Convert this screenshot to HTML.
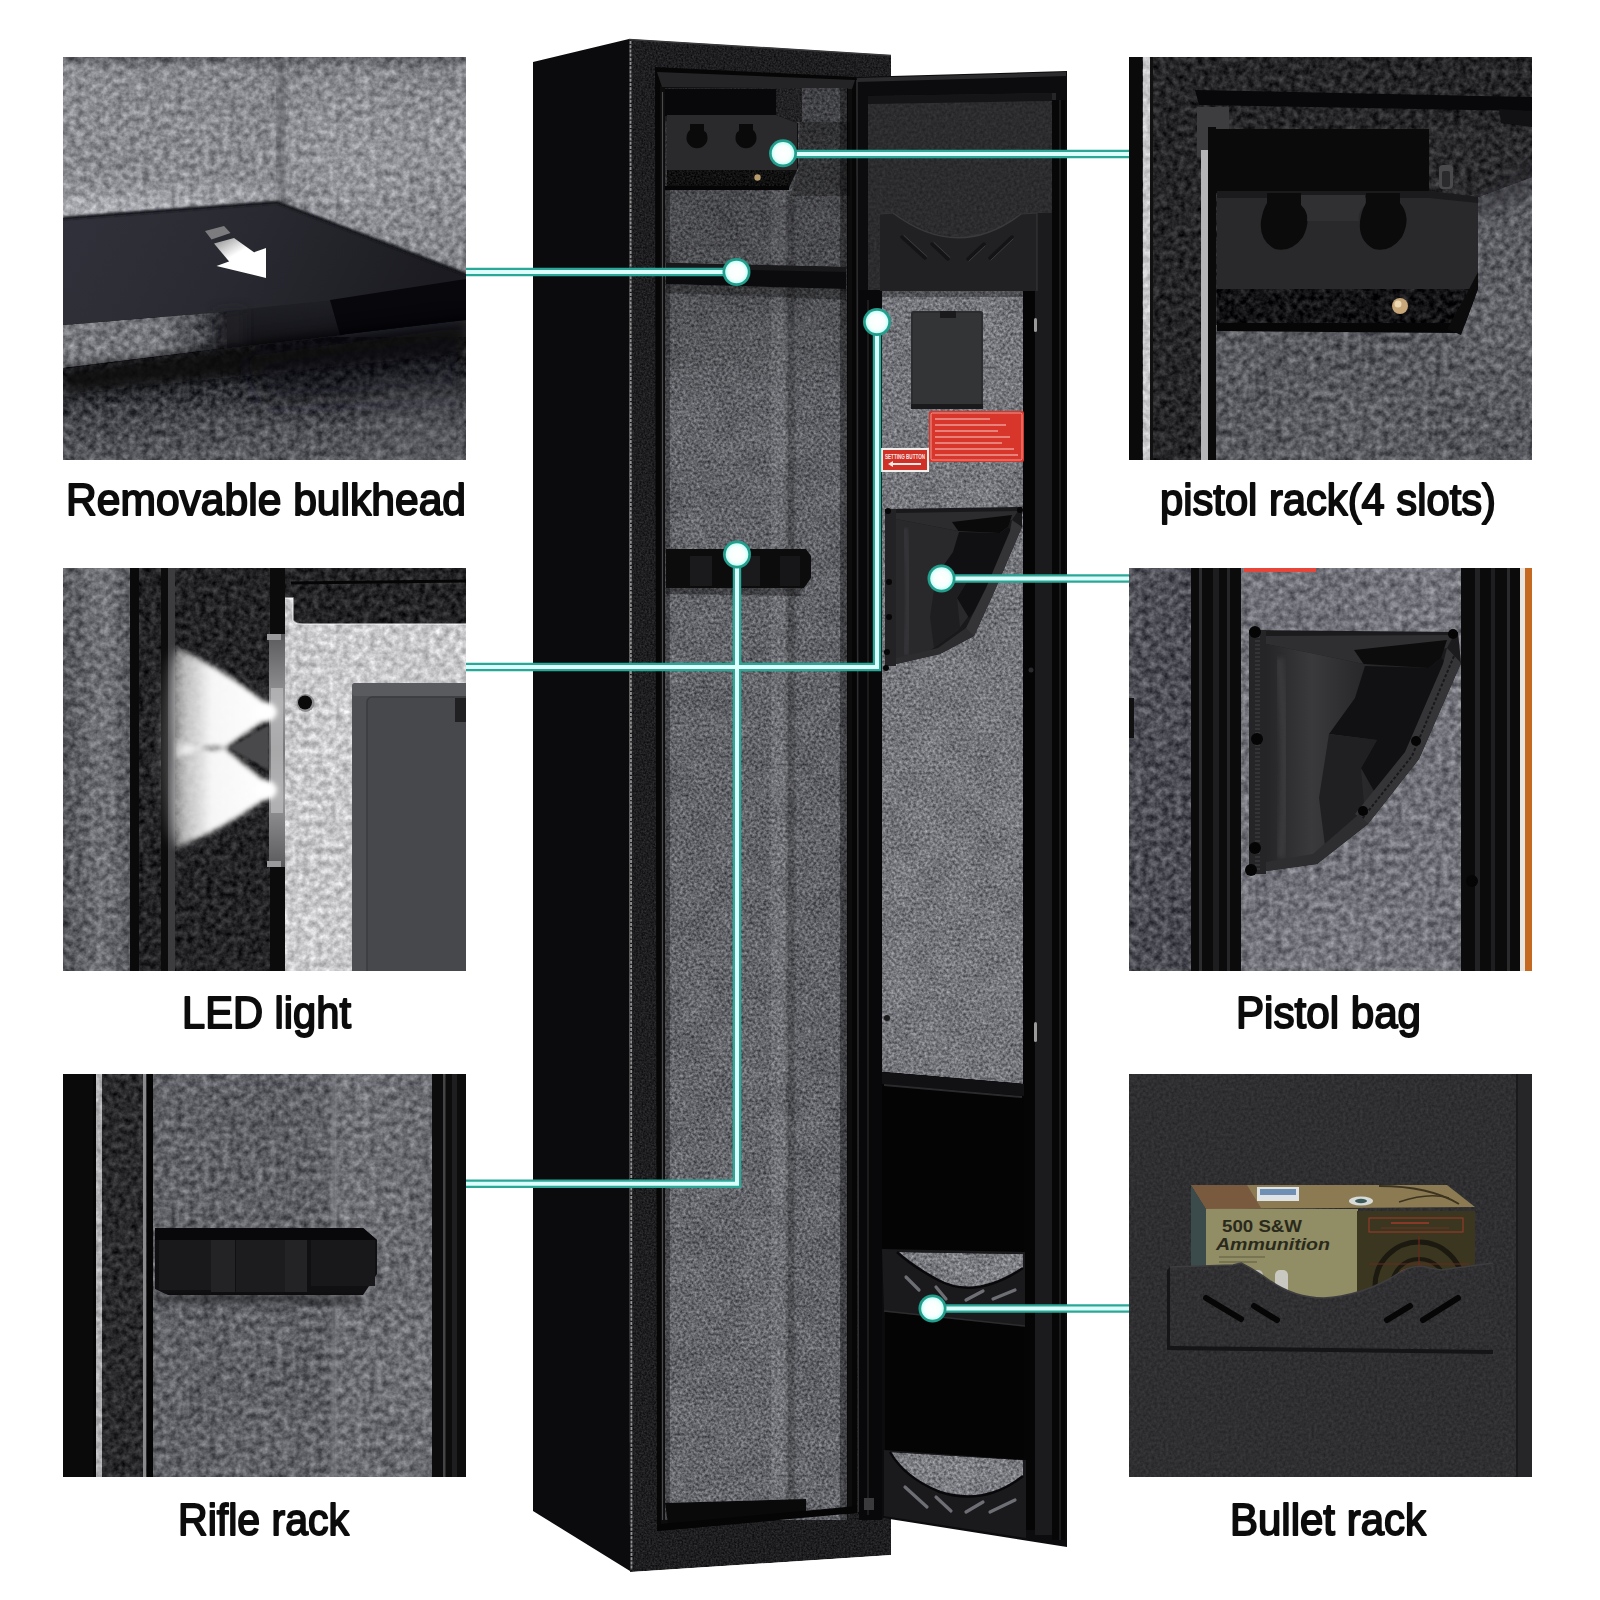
<!DOCTYPE html>
<html lang="en"><head><meta charset="utf-8"><title>Gun safe features</title>
<style>
html,body{margin:0;padding:0;background:#fff}
body{width:1600px;height:1600px;overflow:hidden;position:relative}
svg{position:absolute;left:0;top:0;display:block}
text{font-family:"Liberation Sans",sans-serif}
.cap{font-size:45px;fill:#0a0a0a;stroke:#0a0a0a;stroke-width:1.9px;stroke-linejoin:round}
</style></head><body>
<svg width="1600" height="1600" viewBox="0 0 1600 1600">

<defs>
<!-- fine felt (safe interior) -->
<filter id="feltF" x="0" y="0" width="100%" height="100%" color-interpolation-filters="sRGB">
  <feTurbulence type="fractalNoise" baseFrequency="0.36" numOctaves="2" seed="7" result="n"/>
  <feColorMatrix in="n" type="matrix" values="1 0 0 0 0  1 0 0 0 0  1 0 0 0 0  0 0 0 0 1" result="g"/>
  <feTurbulence type="fractalNoise" baseFrequency="0.035" numOctaves="2" seed="21" result="n2"/>
  <feColorMatrix in="n2" type="matrix" values="1 0 0 0 0  1 0 0 0 0  1 0 0 0 0  0 0 0 0 1" result="g2"/>
  <feComposite in="g" in2="g2" operator="arithmetic" k1="0" k2="0.55" k3="0.1" k4="0" result="c"/>
  <feComposite in="SourceGraphic" in2="c" operator="arithmetic" k1="0" k2="1" k3="1" k4="-0.325" result="m"/>
  <feComposite in="m" in2="SourceGraphic" operator="in"/>
</filter>
<!-- coarse felt (thumbnails, upscaled) -->
<filter id="feltC" x="0" y="0" width="100%" height="100%" color-interpolation-filters="sRGB">
  <feTurbulence type="fractalNoise" baseFrequency="0.15" numOctaves="3" seed="11" result="n"/>
  <feColorMatrix in="n" type="matrix" values="1 0 0 0 0  1 0 0 0 0  1 0 0 0 0  0 0 0 0 1" result="g"/>
  <feTurbulence type="fractalNoise" baseFrequency="0.012" numOctaves="2" seed="4" result="n2"/>
  <feColorMatrix in="n2" type="matrix" values="1 0 0 0 0  1 0 0 0 0  1 0 0 0 0  0 0 0 0 1" result="g2"/>
  <feComposite in="g" in2="g2" operator="arithmetic" k1="0" k2="0.48" k3="0.05" k4="0" result="c"/>
  <feComposite in="SourceGraphic" in2="c" operator="arithmetic" k1="0" k2="1" k3="1" k4="-0.265" result="m"/>
  <feComposite in="m" in2="SourceGraphic" operator="in"/>
</filter>
<!-- dark metal powder-coat texture -->
<filter id="metalF" x="0" y="0" width="100%" height="100%" color-interpolation-filters="sRGB">
  <feTurbulence type="fractalNoise" baseFrequency="0.55" numOctaves="2" seed="3" result="n"/>
  <feColorMatrix in="n" type="matrix" values="1 0 0 0 0  1 0 0 0 0  1 0 0 0 0  0 0 0 0 1" result="g"/>
  <feComposite in="SourceGraphic" in2="g" operator="arithmetic" k1="0" k2="1" k3="0.22" k4="-0.11" result="m"/>
  <feComposite in="m" in2="SourceGraphic" operator="in"/>
</filter>
<filter id="metalC" x="0" y="0" width="100%" height="100%" color-interpolation-filters="sRGB">
  <feTurbulence type="fractalNoise" baseFrequency="0.16" numOctaves="3" seed="5" result="n"/>
  <feColorMatrix in="n" type="matrix" values="1 0 0 0 0  1 0 0 0 0  1 0 0 0 0  0 0 0 0 1" result="g"/>
  <feComposite in="SourceGraphic" in2="g" operator="arithmetic" k1="0" k2="1" k3="0.36" k4="-0.18" result="m"/>
  <feComposite in="m" in2="SourceGraphic" operator="in"/>
</filter>
<filter id="metalS" x="0" y="0" width="100%" height="100%" color-interpolation-filters="sRGB">
  <feTurbulence type="fractalNoise" baseFrequency="0.35" numOctaves="2" seed="9" result="n"/>
  <feColorMatrix in="n" type="matrix" values="1 0 0 0 0  1 0 0 0 0  1 0 0 0 0  0 0 0 0 1" result="g"/>
  <feComposite in="SourceGraphic" in2="g" operator="arithmetic" k1="0" k2="1" k3="0.12" k4="-0.06" result="m"/>
  <feComposite in="m" in2="SourceGraphic" operator="in"/>
</filter>
<linearGradient id="bodyShade" x1="0" y1="0" x2="0" y2="1"><stop offset="0" stop-color="#000" stop-opacity="0.34"/><stop offset="0.14" stop-color="#000" stop-opacity="0.22"/><stop offset="0.22" stop-color="#000" stop-opacity="0.04"/><stop offset="1" stop-color="#000" stop-opacity="0"/></linearGradient>
<filter id="b1" x="-20%" y="-20%" width="140%" height="140%"><feGaussianBlur stdDeviation="1"/></filter>
<filter id="b2" x="-20%" y="-20%" width="140%" height="140%"><feGaussianBlur stdDeviation="2.5"/></filter>
<filter id="b6" x="-30%" y="-30%" width="160%" height="160%"><feGaussianBlur stdDeviation="6"/></filter>
<filter id="b14" x="-40%" y="-40%" width="180%" height="180%"><feGaussianBlur stdDeviation="14"/></filter>
<clipPath id="sq"><rect x="0" y="0" width="403" height="403"/></clipPath>
</defs>

<g id="safe">
<!-- side panel -->
<polygon points="533,62 629,39 630,1571 533,1511" fill="#0b0b0d"/>
<!-- front face -->
<polygon points="629,39 891,55 891,1555 630,1572" fill="#1e1e20" filter="url(#metalF)"/>
<line x1="630.5" y1="41" x2="631.5" y2="1570" stroke="#a8a8a8" stroke-width="1.8" stroke-dasharray="3 1.2" opacity="0.85"/>
<line x1="629" y1="39.5" x2="891" y2="55.5" stroke="#3a3a3c" stroke-width="1.5"/>
<!-- opening -->
<polygon points="655,67 857,77 857,1513 657,1531" fill="#060607"/>
<polygon points="660,86 852,88 852,1512 661,1526" fill="#0d0d0e"/>
<polygon points="657,72 855,80 852,89 662,87" fill="#242426"/>
<line x1="662.5" y1="92" x2="662.5" y2="1520" stroke="#4a4a4c" stroke-width="1.2"/>
<!-- felt: back wall, corner, right wall -->
<g filter="url(#feltF)">
<rect x="665" y="88" width="106" height="1432" fill="#66676c"/>
<rect x="771" y="88" width="17" height="1432" fill="#727378"/>
<rect x="788" y="88" width="59" height="1432" fill="#64656a"/>
</g>
<rect x="665" y="88" width="183" height="1432" fill="url(#bodyShade)"/>
<rect x="840" y="88" width="8" height="1432" fill="#000" opacity="0.35"/>
<rect x="786" y="196" width="9" height="1324" fill="#000" opacity="0.18" filter="url(#b1)"/>
<rect x="665" y="88" width="5" height="1432" fill="#000" opacity="0.3"/>
<!-- top pistol rack -->
<rect x="665" y="88" width="137" height="34" fill="#222224" filter="url(#metalF)"/>
<rect x="665" y="89" width="111" height="27" fill="#08080a"/>
<polygon points="800,122 850,122 850,196 790,196 798,170" fill="#000" opacity="0.28"/>
<polygon points="667,115 776,115 798,123 798,168 788,190 667,186" fill="#0f0f10"/>
<polygon points="667,115 776,115 797,123 797,170 667,170" fill="#2a2a2c"/>
<path d="M690,124 h14 v6 a10.5,10.5 0 1 1 -14,0 z" fill="#0a0a0b"/>
<path d="M739,124 h14 v6 a10.5,10.5 0 1 1 -14,0 z" fill="#0a0a0b"/>
<rect x="704" y="122" width="35" height="10" rx="2" fill="#2a2a2c"/>
<polygon points="667,170 793,170 787,187 667,185" fill="#101011" filter="url(#metalF)"/>
<circle cx="757.5" cy="177.5" r="3.2" fill="#b79a6c"/>
<rect x="665" y="186" width="124" height="4" fill="#050506"/>
<!-- shelf -->
<polygon points="666,263 846,267 846,289 666,284" fill="#0b0b0d"/>
<polygon points="666,263 846,267 846,272 666,268" fill="#18181a"/>
<polygon points="666,284 846,289 846,300 666,293" fill="#000" opacity="0.3"/>
<!-- rifle rack -->
<polygon points="666,549 806,549 811,556 811,578 804,588 666,588" fill="#0c0c0d"/>
<rect x="690" y="556" width="22" height="30" fill="#1a1a1c"/>
<rect x="738" y="556" width="22" height="30" fill="#1a1a1c"/>
<rect x="780" y="556" width="20" height="30" fill="#161618"/>
<polygon points="666,588 804,588 800,596 666,594" fill="#000" opacity="0.35"/>
<!-- bottom foot inside -->
<polygon points="665,1503 806,1499 806,1513 668,1524" fill="#09090a"/>
<polygon points="657,1531 857,1513 857,1506 661,1524" fill="#050506"/>
<!-- door -->
<polygon points="856,77 1067,71 1067,1547 858,1514" fill="#0c0c0e"/>
<polygon points="857,78 1066,72 1066,76 857,82" fill="#2b2b2d"/>
<line x1="857" y1="80" x2="858.5" y2="1512" stroke="#2e2e30" stroke-width="1.5"/>
<!-- door top inner recessed panel -->
<polygon points="868,96 1054,93 1054,300 868,300" fill="#2c2c2e" filter="url(#metalS)"/>
<polygon points="868,96 1054,93 1054,101 868,104" fill="#151517"/>
<rect x="1052" y="93" width="4" height="1440" fill="#262628"/>
<!-- right rails -->
<rect x="1023" y="290" width="12" height="1240" fill="#050506"/>
<rect x="1035" y="213" width="17" height="1322" fill="#1b1b1d"/>
<rect x="1052" y="100" width="13" height="1440" fill="#070708"/>
<line x1="1060" y1="100" x2="1060" y2="1540" stroke="#2a2a2c" stroke-width="1.2"/>
<!-- left rail -->
<rect x="859" y="290" width="23" height="1230" fill="#08080a"/>
<line x1="868" y1="300" x2="868" y2="1515" stroke="#232325" stroke-width="1.5"/>
<!-- bracket top -->
<path d="M880,214 L893,213 Q958,262 1021,214 L1037,213 L1037,291 L880,291 Z" fill="#212123"/>
<path d="M893,213 Q958,262 1021,214" fill="none" stroke="#3a3a3c" stroke-width="1.5"/>
<path d="M880,214 L893,213 M1021,214 L1037,213 L1037,291" fill="none" stroke="#353537" stroke-width="1.2"/>
<g stroke="#141416" stroke-width="3.5" stroke-linecap="round">
<line x1="902" y1="237" x2="925" y2="258"/><line x1="932" y1="244" x2="948" y2="259"/>
<line x1="968" y1="259" x2="984" y2="244"/><line x1="990" y1="258" x2="1012" y2="237"/>
</g>
<g stroke="#3c3c3e" stroke-width="1" stroke-linecap="round" fill="none">
<line x1="904" y1="235.500" x2="927" y2="256.500"/><line x1="934" y1="242.500" x2="950" y2="257.500"/>
<line x1="969" y1="261" x2="985" y2="246"/><line x1="991" y1="260" x2="1013" y2="239"/>
</g>
<!-- door felt -->
<polygon points="882,291 1023,291 1023,1084 882,1072" fill="#75767c" filter="url(#feltF)"/>
<rect x="882" y="291" width="141" height="6" fill="#000" opacity="0.3"/>
<!-- battery box -->
<rect x="911" y="311" width="72" height="97" rx="2" fill="#2b2c2e"/>
<rect x="913" y="313" width="68" height="93" rx="2" fill="#333436"/>
<rect x="940" y="311" width="16" height="7" fill="#1a1a1c"/>
<rect x="911" y="404" width="72" height="5" fill="#1a1a1c"/>
<!-- red labels -->
<rect x="929" y="411" width="95" height="51" rx="2" fill="#d8352b"/>
<rect x="931" y="413" width="91" height="47" rx="1.5" fill="none" stroke="#f3b4ae" stroke-width="0.8"/>
<g stroke="#f0a7a0" stroke-width="1.3" opacity="0.9">
<line x1="935" y1="419" x2="990" y2="419"/><line x1="935" y1="425" x2="1006" y2="425"/><line x1="935" y1="431" x2="998" y2="431"/>
<line x1="935" y1="437" x2="1010" y2="437"/><line x1="935" y1="443" x2="1002" y2="443"/><line x1="935" y1="449" x2="1014" y2="449"/><line x1="935" y1="455" x2="1018" y2="455"/>
</g>
<rect x="881" y="448" width="48" height="24" fill="#f3f0ee"/>
<rect x="883" y="450" width="44" height="20" fill="#cf3127"/>
<text x="905" y="459" font-size="6.5" font-weight="bold" fill="#fbe9e7" text-anchor="middle" textLength="40" lengthAdjust="spacingAndGlyphs">SETTING BUTTON</text>
<path d="M888,464 l5,-3 v2 h28 v2 h-28 v2 z" fill="#fbe9e7"/>
<!-- pistol bag -->
<polygon points="885,509 1022,507 1022,527 995,590 974,636 940,654 896,664 885,666" fill="#19191b"/>
<rect x="885" y="509" width="11" height="157" fill="#232325"/>
<polygon points="896,513 1018,511 1012,520 958,531 896,519" fill="#2c2c2f"/>
<polygon points="952,522 1012,515 1008,527 1000,533 959,532" fill="#0a0a0b"/>
<polygon points="896,519 958,531 1000,533 1008,527 1014,531 990,588 958,630 928,652 896,660" fill="#29292b"/>
<polygon points="959,532 1000,533 1008,527 1015,532 991,590 969,618 957,598 968,580 936,576 953,552" fill="#101012"/>
<polygon points="936,576 968,580 957,598 960,628 934,648 930,617" fill="#1e1e20"/>
<path d="M905,528 Q911,590 906,655" fill="none" stroke="#414144" stroke-width="6" opacity="0.5" filter="url(#b1)"/>
<polygon points="1012,520 1022,527 995,590 974,636 965,630 986,588 1010,531" fill="#343437"/>
<polygon points="974,636 940,654 896,664 896,658 938,648 966,628" fill="#2d2d30"/>
<g fill="#060607"><circle cx="888" cy="511" r="3"/><circle cx="889" cy="582" r="3"/><circle cx="889" cy="617" r="3"/><circle cx="887" cy="652" r="3"/><circle cx="886" cy="668" r="3"/><circle cx="1020" cy="510" r="3"/></g>
<!-- small screws on door -->
<circle cx="887" cy="1018" r="3" fill="#1b1b1d"/><circle cx="1031" cy="670" r="2.5" fill="#2a2a2c"/>
<rect x="1034" y="318" width="3" height="14" rx="1.5" fill="#9a9a9a"/><rect x="1034" y="1022" width="3" height="20" rx="1.5" fill="#9a9a9a"/>
<!-- pocket 1 -->
<polygon points="882,1072 1024,1084 1024,1262 882,1250" fill="#040405"/>
<polygon points="882,1072 1024,1084 1024,1096 882,1084" fill="#111113"/>
<polygon points="884,1084 1022,1096 1022,1098 884,1086" fill="#2a2a2c"/>
<!-- felt floor 1 + plate 1 -->
<polygon points="882,1249 1025,1252 1025,1326 884,1311" fill="#1a1a1c"/>
<path d="M897,1252 L1023,1254 L1023,1268 Q975,1300 938,1280 Q912,1266 897,1252 Z" fill="#7b7c82" filter="url(#feltF)"/>
<path d="M897,1252 Q912,1266 938,1280 Q975,1300 1023,1268" fill="none" stroke="#08080a" stroke-width="2.5"/>
<g stroke="#6e6f74" stroke-width="3.2" stroke-linecap="round">
<line x1="906" y1="1277" x2="919" y2="1290"/><line x1="936" y1="1287" x2="946" y2="1299"/>
<line x1="966" y1="1300" x2="983" y2="1291"/><line x1="993" y1="1299" x2="1015" y2="1290"/>
</g>
<!-- pocket 2 -->
<polygon points="885,1312 1024,1327 1024,1462 885,1452" fill="#040405"/>
<line x1="884" y1="1311" x2="1025" y2="1326" stroke="#2c2c2e" stroke-width="1.5"/>
<!-- plate 2 + felt floor 2 -->
<polygon points="884,1450 1026,1460 1026,1538 884,1516" fill="#1a1a1c"/>
<path d="M890,1452 L1023,1460 L1023,1476 Q985,1506 940,1492 Q905,1478 890,1452 Z" fill="#7b7c82" filter="url(#feltF)"/>
<path d="M890,1452 Q905,1478 940,1492 Q985,1506 1023,1476" fill="none" stroke="#08080a" stroke-width="2.5"/>
<g stroke="#6e6f74" stroke-width="3.2" stroke-linecap="round">
<line x1="905" y1="1487" x2="927" y2="1507"/><line x1="936" y1="1497" x2="951" y2="1511"/>
<line x1="966" y1="1512" x2="983" y2="1502"/><line x1="990" y1="1512" x2="1015" y2="1500"/>
</g>
<!-- hinge bit -->
<rect x="864" y="1498" width="10" height="12" fill="#3a3a3c"/>
</g>

<g id="t1" transform="translate(63,57)" clip-path="url(#sq)">
<defs>
<linearGradient id="t1a" x1="0" y1="0" x2="0" y2="1"><stop offset="0" stop-color="#5a5b61"/><stop offset="0.07" stop-color="#8a8b91"/><stop offset="0.7" stop-color="#8b8c92"/><stop offset="0.92" stop-color="#b4b5bb"/><stop offset="1" stop-color="#a8a9af"/></linearGradient>
<linearGradient id="t1b" x1="0" y1="0" x2="0" y2="1"><stop offset="0" stop-color="#5c5d63"/><stop offset="0.06" stop-color="#85868c"/><stop offset="0.4" stop-color="#94959b"/><stop offset="1" stop-color="#84858b"/></linearGradient>
<linearGradient id="t1c" x1="0" y1="0" x2="1" y2="0.15"><stop offset="0" stop-color="#30313a"/><stop offset="0.5" stop-color="#292a31"/><stop offset="1" stop-color="#1b1b21"/></linearGradient>
<linearGradient id="t1d" x1="0" y1="0" x2="0" y2="1"><stop offset="0" stop-color="#111116"/><stop offset="0.3" stop-color="#25262b"/><stop offset="0.7" stop-color="#4c4d52"/><stop offset="1" stop-color="#595a5f"/></linearGradient>
<linearGradient id="t1e" x1="0" y1="0" x2="1" y2="1"><stop offset="0" stop-color="#8a8a8a"/><stop offset="0.6" stop-color="#ffffff"/></linearGradient>
<linearGradient id="t1f" x1="0" y1="0" x2="1" y2="0"><stop offset="0" stop-color="#7a7b80"/><stop offset="0.6" stop-color="#75767b"/><stop offset="1" stop-color="#2c2d32"/></linearGradient>
<linearGradient id="t1g" x1="0" y1="0" x2="0.3" y2="1"><stop offset="0" stop-color="#26272d"/><stop offset="1" stop-color="#121217"/></linearGradient>
</defs>
<rect x="0" y="0" width="403" height="403" fill="#2a2b30"/>
<g filter="url(#feltC)">
<rect x="0" y="0" width="222" height="175" fill="url(#t1a)"/>
<rect x="218" y="0" width="185" height="230" fill="url(#t1b)"/>
<rect x="0" y="280" width="403" height="123" fill="url(#t1d)"/>
</g>
<rect x="215" y="0" width="6" height="148" fill="#3a3a40" opacity="0.45" filter="url(#b2)"/>
<polygon points="0,161 214,145 403,217 403,224 267,243 164,254 0,268" fill="url(#t1c)"/>
<polyline points="0,161 214,145 403,217" fill="none" stroke="#17171c" stroke-width="3" filter="url(#b1)"/>
<polygon points="164,254 267,243 403,224 403,236 277,279 164,292" fill="url(#t1g)"/>
<polygon points="267,243 403,222 403,263 277,278" fill="#07070c"/>
<polygon points="0,268 164,254.500 164,291 0,311" fill="url(#t1f)" filter="url(#feltC)"/>
<polygon points="152,254 182,252 182,292 152,294" fill="#222328" opacity="0.7" filter="url(#b6)"/>
<polygon points="0,312 164,291 277,278 403,263 403,296 0,338" fill="#0b0b10" opacity="0.88" filter="url(#b6)"/>
<polygon points="180,300 403,270 403,340 200,350" fill="#0d0d12" opacity="0.45" filter="url(#b14)"/>
<polygon points="300,330 403,320 403,403 300,403" fill="#7a7b82" opacity="0.22" filter="url(#b14)"/>
<!-- arrow -->
<polygon points="142,174 161,169 167.500,176 148.500,182.500" fill="#7c7c7f"/>
<polygon points="151,186.500 171,181 192,196 167,205.500" fill="url(#t1e)"/>
<polygon points="153.500,209 203,191 203,221" fill="#ffffff"/>
</g>

<g id="t2" transform="translate(63,568)" clip-path="url(#sq)">
<defs>
<linearGradient id="t2a" x1="0" y1="0" x2="1" y2="0"><stop offset="0" stop-color="#55565c"/><stop offset="0.6" stop-color="#74757b"/><stop offset="1" stop-color="#55565b"/></linearGradient>
<linearGradient id="t2c" x1="1" y1="0" x2="0" y2="0"><stop offset="0" stop-color="#fff" stop-opacity="1"/><stop offset="0.6" stop-color="#fff" stop-opacity="0.96"/><stop offset="0.85" stop-color="#fff" stop-opacity="0.7"/><stop offset="1" stop-color="#fff" stop-opacity="0.2"/></linearGradient>
<linearGradient id="t2d" x1="0" y1="0" x2="0" y2="1"><stop offset="0" stop-color="#5a5a5c"/><stop offset="0.3" stop-color="#9a9a9c"/><stop offset="0.5" stop-color="#777779"/><stop offset="0.7" stop-color="#9a9a9c"/><stop offset="1" stop-color="#5a5a5c"/></linearGradient>
</defs>
<rect x="0" y="0" width="403" height="403" fill="#1c1c1e"/>
<rect x="0" y="0" width="70" height="403" fill="url(#t2a)" filter="url(#feltC)"/>
<rect x="68" y="0" width="335" height="403" fill="#242426" filter="url(#metalC)"/>
<rect x="67" y="0" width="9" height="403" fill="#0a0a0b"/>
<rect x="98" y="0" width="7" height="403" fill="#0c0c0d"/>
<rect x="105" y="0" width="7" height="403" fill="#3c3c3f"/>
<rect x="207" y="0" width="15" height="403" fill="#0b0b0c"/>
<!-- lit felt -->
<path d="M222,30 L230,30 L230,52 Q232,56 240,56 L403,56 L403,403 L222,403 Z" fill="#c9c9cb" filter="url(#feltC)"/>
<path d="M222,30 L230,30 L230,52 Q232,56 240,56 L403,56" fill="none" stroke="#fff" stroke-width="1.5" opacity="0.6"/>
<rect x="222" y="0" width="181" height="16" fill="#262628" filter="url(#metalC)"/>
<line x1="228" y1="15" x2="403" y2="13" stroke="#050506" stroke-width="3"/>
<!-- LED strip -->
<rect x="206" y="66" width="16" height="233" fill="url(#t2d)"/>
<rect x="208" y="120" width="12" height="125" fill="#bdbdbf" opacity="0.7"/>
<rect x="204" y="66" width="14" height="6" fill="#9a9a9c"/><rect x="204" y="293" width="14" height="6" fill="#9a9a9c"/>
<!-- light cones -->
<ellipse cx="112" cy="180" rx="14" ry="95" fill="#fff" opacity="0.22" filter="url(#b6)"/>
<g filter="url(#b2)">
<path d="M208,139 Q160,100 113,80 Q104,130 112,192 Q140,175 162,180 Q190,160 208,149 Z" fill="url(#t2c)"/>
<path d="M208,217 Q185,200 162,180 Q140,185 112,172 Q104,230 113,280 Q160,262 208,227 Z" fill="url(#t2c)"/>
</g>
<polygon points="166,180 206,157 206,202" fill="#4a4a4c" filter="url(#b1)"/>
<ellipse cx="204" cy="144" rx="10" ry="9" fill="#fff" filter="url(#b2)"/>
<ellipse cx="204" cy="222" rx="10" ry="9" fill="#fff" filter="url(#b2)"/>
<!-- hole -->
<circle cx="242.500" cy="135" r="9" fill="#8d8d8f"/><circle cx="242" cy="134.500" r="7" fill="#0a0a0b"/>
<!-- battery box -->
<rect x="289" y="115" width="120" height="300" rx="4" fill="#4d4e51"/>
<rect x="289" y="115" width="120" height="13" rx="3" fill="#5a5b5e"/>
<rect x="304" y="129" width="110" height="290" rx="5" fill="#47484b" stroke="#3a3b3e" stroke-width="1.5"/>
<rect x="392" y="130" width="12" height="24" fill="#202022"/>
</g>

<g id="t3" transform="translate(63,1074)" clip-path="url(#sq)">
<rect x="0" y="0" width="403" height="403" fill="#0a0a0b"/>
<rect x="30" y="0" width="58" height="403" fill="#2a2a2c" filter="url(#metalC)"/>
<rect x="33" y="0" width="6" height="403" fill="#b0b0b2" filter="url(#metalC)"/>
<rect x="30" y="0" width="3" height="403" fill="#050506"/>
<rect x="80" y="0" width="3.500" height="403" fill="#8a8a8c"/>
<rect x="83.500" y="0" width="7" height="403" fill="#050506"/>
<g filter="url(#feltC)">
<rect x="90" y="0" width="183" height="403" fill="#616268"/>
<rect x="272" y="0" width="97" height="403" fill="#6d6e74"/>
</g>
<rect x="268" y="0" width="6" height="403" fill="#8a8b91" opacity="0.4" filter="url(#b1)"/>
<rect x="369" y="0" width="34" height="403" fill="#0c0c0d"/>
<rect x="380" y="0" width="2.500" height="403" fill="#444446"/>
<rect x="389" y="0" width="5" height="403" fill="#1e1e20"/>
<!-- rack -->
<polygon points="92,154 300,154 314,166 314,200 300,221 105,221 92,215" fill="#101012"/>
<polygon points="92,154 300,154 314,166 92,166" fill="#08080a"/>
<rect x="96" y="166" width="74" height="50" fill="#19191b"/>
<rect x="173" y="166" width="70" height="52" fill="#1c1c1e"/>
<rect x="248" y="166" width="64" height="46" fill="#18181a"/>
<rect x="148" y="166" width="24" height="52" fill="#232325"/>
<rect x="222" y="166" width="22" height="52" fill="#232325"/>
<polygon points="92,221 300,221 296,232 92,230" fill="#000" opacity="0.35" filter="url(#b2)"/>
</g>

<g id="t4" transform="translate(1129,57)" clip-path="url(#sq)">
<rect x="0" y="0" width="403" height="403" fill="#262628" filter="url(#metalC)"/>
<rect x="0" y="0" width="13" height="403" fill="#0a0a0b"/>
<rect x="14" y="0" width="7" height="403" fill="#c8c8ca" filter="url(#metalC)"/>
<rect x="21" y="0" width="3" height="403" fill="#111"/>
<!-- recess top shadow line -->
<polygon points="66,33 403,40 403,54 70,48" fill="#08080a"/>
<polygon points="68,50 100,50 100,72 88,76 88,100 68,100" fill="#3d3d40"/>
<polygon points="370,52 403,54 403,70 372,66" fill="#111113"/>
<!-- right dark textured area -->
<rect x="300" y="70" width="103" height="90" fill="#2b2b2e" filter="url(#metalC)"/>
<!-- felt -->
<g filter="url(#feltC)">
<rect x="87" y="268" width="316" height="135" fill="#5a5b61"/>
<polygon points="349,140 403,120 403,290 330,290 335,250" fill="#5e5f65"/>
</g>
<polygon points="349,140 403,100 403,140 349,160" fill="#2b2b2e" opacity="0.5" filter="url(#b6)"/>
<!-- vertical lines -->
<rect x="72" y="93" width="7" height="310" fill="#b5b5b7"/>
<rect x="79" y="70" width="8" height="333" fill="#0a0a0b"/>
<!-- rack -->
<rect x="87" y="72" width="213" height="64" fill="#0a0a0b"/>
<polygon points="88,134 300,134 349,140 349,232 88,232" fill="#29292b"/>
<polygon points="88,134 300,134 349,140 349,146 300,141 88,141" fill="#1b1b1d"/>
<rect x="310" y="108" width="14" height="24" rx="4" fill="#4a4a4d"/><rect x="313" y="114" width="8" height="16" rx="2" fill="#2b2b2e"/>
<path d="M138,136 L172,136 L172,146 Q184,160 174,180 Q162,196 146,192 Q130,184 132,164 Q134,152 138,146 Z" fill="#0b0b0c"/>
<path d="M237,136 L271,136 L271,146 Q283,160 273,180 Q261,196 245,192 Q229,184 231,164 Q233,152 237,146 Z" fill="#0b0b0c"/>
<path d="M172,138 L236,138 L236,148 Q228,156 230,164 L178,164 Q180,156 172,148 Z" fill="#303033"/>
<!-- lower lip -->
<polygon points="88,232 349,232 336,268 88,268" fill="#131315" filter="url(#metalC)"/>
<polygon points="88,266 336,266 330,276 88,274" fill="#060607"/>
<polygon points="349,215 349,232 332,278 318,272 336,240" fill="#0b0b0c"/>
<circle cx="271" cy="249" r="8" fill="#c7a679"/><circle cx="269" cy="247" r="3.500" fill="#ecd9b4"/>
</g>

<g id="t5" transform="translate(1129,568)" clip-path="url(#sq)">
<rect x="0" y="0" width="403" height="403" fill="#0b0b0c"/>
<rect x="0" y="0" width="62" height="403" fill="#4e4f56" filter="url(#feltC)"/>
<rect x="112" y="0" width="220" height="403" fill="#73747b" filter="url(#feltC)"/>
<rect x="70" y="0" width="3" height="403" fill="#2c2c2e"/><rect x="84" y="0" width="6" height="403" fill="#1d1d1f"/><rect x="98" y="0" width="3" height="403" fill="#262628"/>
<rect x="346" y="0" width="5" height="403" fill="#222224"/><rect x="362" y="0" width="4" height="403" fill="#1e1e20"/><rect x="378" y="0" width="3" height="403" fill="#2a2a2c"/>
<rect x="391" y="0" width="5" height="403" fill="#e8e4e0"/><rect x="396" y="0" width="7" height="403" fill="#c4691f"/>
<rect x="115" y="0" width="72" height="4" fill="#e8453a"/>
<rect x="0" y="130" width="5" height="40" fill="#111"/>
<!-- bag -->
<defs><linearGradient id="t5g" x1="0" y1="0" x2="1" y2="0"><stop offset="0" stop-color="#252527"/><stop offset="0.25" stop-color="#3a3a3d"/><stop offset="0.5" stop-color="#2a2a2c"/><stop offset="1" stop-color="#1a1a1c"/></linearGradient></defs>
<polygon points="120,62 329,64 332,95 290,191 239,256 188,296 137,303 120,306" fill="#1b1b1d"/>
<rect x="120" y="62" width="17" height="244" fill="#252527"/>
<line x1="128.500" y1="64" x2="128.500" y2="304" stroke="#343436" stroke-width="5" stroke-dasharray="2 2"/>
<polygon points="137,68 325,67 318,80 235,96 137,76" fill="#2f2f32"/>
<polygon points="225,82 318,72 312,90 300,100 236,98" fill="#0c0c0d"/>
<polygon points="137,76 235,96 300,100 312,90 320,96 282,186 234,250 186,288 137,296" fill="url(#t5g)"/>
<polygon points="236,98 300,100 312,90 322,98 284,188 250,232 232,200 248,172 200,166 226,130" fill="#111113"/>
<polygon points="200,166 248,172 232,200 236,248 196,278 190,230" fill="#202022"/>
<path d="M150,90 Q160,190 152,290" fill="none" stroke="#444447" stroke-width="9" opacity="0.55" filter="url(#b2)"/>
<polygon points="318,80 332,95 290,191 239,256 226,246 276,184 314,96" fill="#353538"/>
<polyline points="325,88 283,188 233,251" fill="none" stroke="#19191b" stroke-width="2" stroke-dasharray="3 2"/>
<polygon points="239,256 188,296 137,303 137,294 184,286 230,246" fill="#2e2e31"/>
<g fill="#050506"><circle cx="126" cy="64" r="6"/><circle cx="128" cy="171" r="6"/><circle cx="126" cy="280" r="6"/><circle cx="122" cy="302" r="6"/><circle cx="324" cy="66" r="5"/><circle cx="287" cy="173" r="5"/><circle cx="234" cy="243" r="5"/><circle cx="343" cy="313" r="6"/></g>
</g>

<g id="t6" transform="translate(1129,1074)" clip-path="url(#sq)">
<rect x="0" y="0" width="403" height="403" fill="#2f2f31" filter="url(#metalS)"/>
<rect x="388" y="0" width="15" height="403" fill="#262628"/><rect x="387" y="0" width="2" height="403" fill="#1a1a1c"/>
<!-- ammo box -->
<polygon points="62,111 318,111 346,133 77,135" fill="#8c7b52"/>
<polygon points="62,111 118,111 132,134 77,135" fill="#7a5a3e"/>
<polygon points="62,111 77,135 77,200 62,196" fill="#3b4a4a"/>
<rect x="128" y="113" width="42" height="14" fill="#dfe3e6"/><rect x="131" y="115" width="36" height="6" fill="#6f8fb5"/>
<ellipse cx="232" cy="127" rx="12" ry="4.500" fill="#d8dcd8"/><ellipse cx="232" cy="127" rx="6" ry="2.200" fill="#3c5a5a"/>
<path d="M250,112 Q300,112 330,130" fill="none" stroke="#3d3420" stroke-width="2"/><path d="M270,128 Q300,118 320,124" fill="none" stroke="#3d3420" stroke-width="1.5"/>
<rect x="77" y="135" width="152" height="90" fill="#918d64"/>
<rect x="228" y="137" width="118" height="88" fill="#3b361f"/>
<rect x="240" y="144" width="94" height="14" fill="none" stroke="#a23a2a" stroke-width="1"/>
<line x1="262" y1="149" x2="300" y2="149" stroke="#a23a2a" stroke-width="1.5"/><line x1="252" y1="154" x2="320" y2="154" stroke="#6d3024" stroke-width="1"/>
<circle cx="290" cy="212" r="44" fill="none" stroke="#1c1a10" stroke-width="5"/><circle cx="290" cy="212" r="27" fill="none" stroke="#1c1a10" stroke-width="4"/>
<line x1="290" y1="162" x2="290" y2="200" stroke="#6a2a1e" stroke-width="1.2"/><line x1="240" y1="190" x2="340" y2="190" stroke="#6a2a1e" stroke-width="1.2"/>
<ellipse cx="278" cy="204" rx="15" ry="9" fill="#e8442c" transform="rotate(-25 278 204)"/>
<text x="93" y="158" font-size="17" font-weight="bold" fill="#2a2a1c" textLength="80" lengthAdjust="spacingAndGlyphs">500 S&amp;W</text>
<text x="87" y="176" font-size="17" font-weight="bold" font-style="italic" fill="#2a2a1c" textLength="114" lengthAdjust="spacingAndGlyphs">Ammunition</text>
<g stroke="#6f6c4c" stroke-width="1.6"><line x1="90" y1="183" x2="136" y2="183"/><line x1="90" y1="188" x2="128" y2="188"/><line x1="90" y1="193" x2="112" y2="193"/><line x1="90" y1="198" x2="132" y2="198"/></g>
<g><rect x="122" y="196" width="12" height="26" rx="5" fill="#bdbdb5"/><rect x="146" y="196" width="13" height="28" rx="5" fill="#c9c9c1"/><rect x="100" y="196" width="10" height="20" rx="4" fill="#a9a99f"/></g>
<!-- pocket shadow -->
<polygon points="38,196 41,193 41,272 364,276 364,280 38,276" fill="#151517"/>
<!-- pocket front -->
<path d="M41,193 L104,191 L112,189 Q126,196 140,206 Q165,224 195,224 Q230,222 262,204 Q285,188 300,194 L312,196 L364,189 L364,275 L41,272 Z" fill="#303032" filter="url(#metalS)"/>
<path d="M41,193 L104,191 L112,189 Q126,196 140,206 Q165,224 195,224 Q230,222 262,204 Q285,188 300,194 L312,196 L364,189" fill="none" stroke="#3e3e41" stroke-width="1.5"/>
<g stroke="#060607" stroke-width="6" stroke-linecap="round">
<line x1="77" y1="224" x2="112" y2="245"/><line x1="125" y1="232" x2="148" y2="246"/>
<line x1="258" y1="246" x2="281" y2="232"/><line x1="294" y1="246" x2="329" y2="224"/>
</g>
</g>

<g id="lines" fill="none" stroke-linecap="butt" stroke-linejoin="miter">
<g stroke="#2aa797" stroke-width="8.4">
<path d="M783,154 H1129"/>
<path d="M466,272 H737"/>
<path d="M877,322 V667 H466"/>
<path d="M737,555 V1183.700 H466"/>
<path d="M942,578.500 H1129"/>
<path d="M933,1308.500 H1129"/>
</g>
<g stroke="#dcfffb" stroke-width="4">
<path d="M783,154 H1129"/>
<path d="M466,272 H737"/>
<path d="M877,322 V667 H466"/>
<path d="M737,555 V1183.700 H466"/>
<path d="M942,578.500 H1129"/>
<path d="M933,1308.500 H1129"/>
</g>
</g>
<g id="dots">
<defs><radialGradient id="dotg"><stop offset="0" stop-color="#ffffff"/><stop offset="0.7" stop-color="#f6fffd"/><stop offset="1" stop-color="#c4fff6"/></radialGradient></defs>
<g fill="#219e8c"><circle cx="783" cy="153.3" r="14"/><circle cx="736.5" cy="272" r="14"/><circle cx="877" cy="322" r="14"/><circle cx="737" cy="554.5" r="14"/><circle cx="941.5" cy="578.5" r="14"/><circle cx="932.5" cy="1308.5" r="14"/></g>
<g fill="url(#dotg)"><circle cx="783" cy="153.3" r="11.3"/><circle cx="736.5" cy="272" r="11.3"/><circle cx="877" cy="322" r="11.3"/><circle cx="737" cy="554.5" r="11.3"/><circle cx="941.5" cy="578.5" r="11.3"/><circle cx="932.5" cy="1308.5" r="11.3"/></g>
</g>

<g id="caps" class="cap" opacity="0.99">
<text x="66" y="515" textLength="400" lengthAdjust="spacingAndGlyphs">Removable bulkhead</text>
<text x="182" y="1027.500" textLength="169" lengthAdjust="spacingAndGlyphs">LED light</text>
<text x="178" y="1534.500" textLength="171" lengthAdjust="spacingAndGlyphs">Rifle rack</text>
<text x="1160" y="515" textLength="336" lengthAdjust="spacingAndGlyphs">pistol rack(4 slots)</text>
<text x="1236" y="1027.500" textLength="185" lengthAdjust="spacingAndGlyphs">Pistol bag</text>
<text x="1230" y="1534.500" textLength="196" lengthAdjust="spacingAndGlyphs">Bullet rack</text>
</g>

</svg>
</body></html>
